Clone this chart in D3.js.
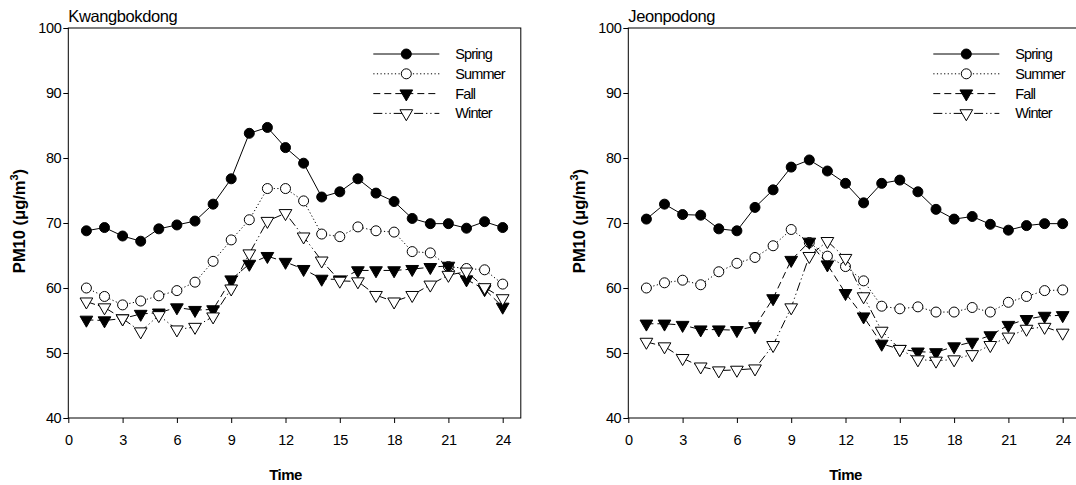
<!DOCTYPE html>
<html>
<head>
<meta charset="utf-8">
<script src="https://cdn.jsdelivr.net/npm/d3@7"></script>
<style>
body { margin: 0; background: #fff; }
svg { font-family: "Liberation Sans", Arial, sans-serif; }
</style>
</head>
<body>
<div id="chart"></div>
<script>
var hours = [1,2,3,4,5,6,7,8,9,10,11,12,13,14,15,16,17,18,19,20,21,22,23,24];
var xTicks = [0,3,6,9,12,15,18,21,24];
var yTicks = [40,50,60,70,80,90,100];
var seasons = ["Spring","Summer","Fall","Winter"];

var kwangSpring = [68.8,69.3,68.0,67.2,69.1,69.7,70.3,72.9,76.8,83.8,84.7,81.6,79.2,74.0,74.8,76.8,74.6,73.3,70.7,69.9,69.9,69.2,70.2,69.3];
var kwangSummer = [60.0,58.7,57.4,58.0,58.8,59.6,60.9,64.1,67.4,70.5,75.3,75.3,73.4,68.3,67.9,69.4,68.8,68.6,65.6,65.4,63.3,63.0,62.8,60.6];
var kwangFall   = [55.1,55.0,55.3,56.0,56.2,57.0,56.6,56.7,61.3,63.7,64.9,64.0,62.9,61.4,61.3,62.7,62.7,62.7,62.9,63.2,63.4,61.3,59.8,57.1];
var kwangWinter = [57.9,57.0,55.3,53.3,55.8,53.6,54.0,55.6,59.9,65.3,70.3,71.5,67.9,64.2,61.1,61.0,58.9,57.9,58.9,60.5,62.0,62.5,60.1,58.4];

var jeonSpring = [70.6,72.9,71.3,71.2,69.1,68.8,72.4,75.1,78.6,79.7,78.0,76.1,73.1,76.1,76.6,74.8,72.1,70.6,71.0,69.8,68.9,69.6,69.9,69.9];
var jeonSummer = [60.0,60.8,61.2,60.5,62.5,63.8,64.7,66.5,69.0,67.0,64.9,63.3,61.1,57.2,56.8,57.1,56.3,56.3,57.0,56.3,57.8,58.7,59.6,59.7];
var jeonFall   = [54.5,54.5,54.3,53.6,53.6,53.5,54.1,58.4,64.3,67.1,63.6,59.2,55.6,51.4,50.6,50.2,50.1,51.0,51.7,52.7,54.3,55.2,55.7,55.8];
var jeonWinter = [51.7,51.0,49.2,47.9,47.3,47.4,47.6,51.2,57.0,64.9,67.2,64.6,58.7,53.4,50.6,49.0,48.8,49.0,49.8,51.2,52.5,53.7,54.0,53.1];

// line / marker style per season
var styles = {
	"Spring": {dash: null, marker: "circle", fill: "#000"},
	"Summer": {dash: "1.2,2.4", marker: "circle", fill: "#fff"},
	"Fall":   {dash: "7,4", marker: "tri", fill: "#000"},
	"Winter": {dash: "9,3,1.2,3,1.2,3", marker: "tri", fill: "#fff"}
};

var svg = d3.select("#chart")
	.append("svg")
		.attr("width", 1076)
		.attr("height", 485);

function drawPanel(left, title, series) {
	var top = 28, bottom = 418;
	var x = d3.scaleLinear().domain([0, 25]).range([left, left + 452.5]);
	var y = d3.scaleLinear().domain([40, 100]).range([bottom, top]);

	var g = svg.append("g");

	// frame
	g.append("rect")
		.attr("x", x(0)).attr("y", y(100))
		.attr("width", x(25) - x(0)).attr("height", y(40) - y(100))
		.attr("fill", "none").attr("stroke", "#000").attr("stroke-width", 1);

	var xAxis = g.append("g")
		.attr("transform", `translate(0,${bottom})`)
		.call(d3.axisBottom(x).tickValues(xTicks).tickSize(5).tickPadding(12));
	var yAxis = g.append("g")
		.attr("transform", `translate(${left},0)`)
		.call(d3.axisLeft(y).tickValues(yTicks).tickSize(5).tickPadding(2));
	[xAxis, yAxis].forEach(a => {
		a.select(".domain").remove();
		a.selectAll("text").style("font-size", "14.5px").attr("fill", "#000")
			.style("letter-spacing", "-0.4px")
			.style("font-family", "'Liberation Sans', Arial, sans-serif");
		a.selectAll("line").attr("stroke", "#000");
	});

	g.append("text")
		.attr("x", left).attr("y", 22)
		.style("font-size", "16.5px")
		.style("letter-spacing", "-0.4px")
		.text(title);

	g.append("text")
		.attr("x", x(12)).attr("y", 480)
		.attr("text-anchor", "middle")
		.style("font-size", "15px").style("font-weight", "bold")
		.style("letter-spacing", "-0.6px")
		.text("Time");

	var yl = g.append("text")
		.attr("transform", `translate(${left - 43},${(top + bottom) / 2 - 2}) rotate(-90)`)
		.attr("text-anchor", "middle")
		.style("font-size", "16.5px").style("font-weight", "bold");
	yl.append("tspan").text("PM10 (\u03bcg/m");
	yl.append("tspan").attr("dy", -7).style("font-size", "11px").text("3");
	yl.append("tspan").attr("dy", 7).text(")");

	var line = d3.line()
		.x(function(d, i) { return x(hours[i]); })
		.y(function(d) { return y(d); });

	seasons.forEach(function(s, k) {
		var st = styles[s];
		g.append("path")
			.datum(series[k])
			.attr("fill", "none")
			.attr("stroke", "#000")
			.attr("stroke-width", 1)
			.attr("stroke-dasharray", st.dash)
			.attr("d", line);
		drawMarkers(g, series[k].map((v, i) => [x(hours[i]), y(v)]), st);
	});

	// legend
	seasons.forEach(function(s, k) {
		var st = styles[s];
		var ly = 54 + k * 19.8;
		g.append("line")
			.attr("x1", left + 305).attr("x2", left + 371)
			.attr("y1", ly).attr("y2", ly)
			.attr("stroke", "#000").attr("stroke-width", 1)
			.attr("stroke-dasharray", st.dash);
		drawMarkers(g, [[left + 338, ly]], st);
		g.append("text")
			.attr("x", left + 387).attr("y", ly + 5)
			.style("font-size", "14.5px")
			.style("letter-spacing", "-0.9px")
			.text(s);
	});
}

function drawMarkers(g, pts, st) {
	if (st.marker == "circle") {
		g.selectAll(null).data(pts).enter().append("circle")
			.attr("cx", d => d[0]).attr("cy", d => d[1])
			.attr("r", 5)
			.attr("fill", st.fill).attr("stroke", "#000").attr("stroke-width", 1);
	} else {
		g.selectAll(null).data(pts).enter().append("path")
			.attr("d", d3.symbol().type(d3.symbolTriangle).size(70))
			.attr("transform", d => `translate(${d[0]},${d[1]}) rotate(180)`)
			.attr("fill", st.fill).attr("stroke", "#000").attr("stroke-width", 1);
	}
}

drawPanel(68.3, "Kwangbokdong", [kwangSpring, kwangSummer, kwangFall, kwangWinter]);
drawPanel(628.3, "Jeonpodong", [jeonSpring, jeonSummer, jeonFall, jeonWinter]);
</script>
</body>
</html>
